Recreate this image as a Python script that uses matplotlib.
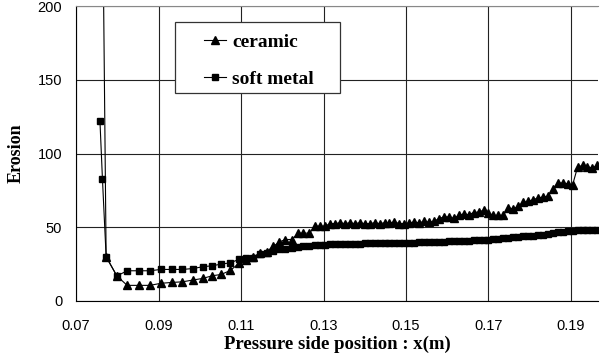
import matplotlib.pyplot as plt
from matplotlib.patches import Rectangle

# x positions (m), shared by both series
x_pos = [0.0758, 0.0764, 0.0773, 0.0799, 0.0824, 0.0852, 0.0879, 0.0906, 0.0933, 0.0958,
         0.0983, 0.1007, 0.1030, 0.1052, 0.1074, 0.1095, 0.1112, 0.1130, 0.1146, 0.1162,
         0.1178, 0.1193, 0.1207, 0.1223, 0.1239, 0.1251, 0.1266, 0.1279, 0.1292, 0.1304,
         0.1316, 0.1328, 0.1340, 0.1352, 0.1364, 0.1376, 0.1388, 0.1400, 0.1412, 0.1424,
         0.1436, 0.1448, 0.1460, 0.1472, 0.1484, 0.1496, 0.1508, 0.1520, 0.1532, 0.1544,
         0.1556, 0.1568, 0.1580, 0.1592, 0.1604, 0.1616, 0.1628, 0.1640, 0.1652, 0.1664,
         0.1676, 0.1688, 0.1700, 0.1712, 0.1724, 0.1736, 0.1748, 0.1760, 0.1772, 0.1784,
         0.1796, 0.1808, 0.1820, 0.1832, 0.1844, 0.1856, 0.1868, 0.1880, 0.1892, 0.1904,
         0.1916, 0.1928, 0.1940, 0.1952, 0.1964]

ceramic = [600, 285, 30, 17, 10.6, 10.6, 10.6, 12.0, 12.6, 13.0,
           14.2, 15.3, 17.1, 18.0, 20.7, 25.5, 27.7, 30.0, 32.6, 33.3,
           37.0, 40.0, 41.7, 41.7, 46.0, 46.0, 46.0, 50.7, 50.7, 50.7,
           52.5, 52.5, 53.0, 52.5, 53.0, 52.5, 53.0, 52.5, 52.5, 53.0,
           52.5, 53.0, 53.0, 53.5, 52.5, 52.5, 53.0, 53.5, 53.0, 54.0,
           53.5, 54.0, 55.9, 57.0, 57.0, 56.0, 58.0, 59.0, 58.5, 60.0,
           60.3, 61.5, 59.7, 58.0, 58.0, 58.0, 63.3, 62.4, 64.2, 67.0,
           67.5, 68.7, 69.8, 70.5, 71.0, 76.0, 80.0, 80.0, 79.5, 78.8,
           90.8, 91.9, 90.8, 90.3, 91.9]

soft_metal = [122, 83, 30, 17, 20.5, 20.5, 20.5, 21.4, 21.4, 21.4,
              22.0, 23.2, 23.9, 25.0, 25.9, 28.2, 29.0, 29.3, 31.8, 32.4,
              34.0, 35.0, 35.5, 36.0, 36.5, 37.0, 37.5, 37.8, 38.0, 38.2,
              38.4, 38.5, 38.6, 38.7, 38.8, 38.8, 38.9, 39.0, 39.0, 39.1,
              39.1, 39.2, 39.3, 39.3, 39.4, 39.5, 39.6, 39.6, 39.7, 39.8,
              39.9, 40.0, 40.2, 40.3, 40.5, 40.6, 40.8, 40.9, 41.0, 41.2,
              41.4, 41.6, 41.7, 42.0, 42.3, 42.6, 42.9, 43.2, 43.5, 43.8,
              44.1, 44.3, 44.6, 45.0, 45.5, 46.0, 46.5, 47.0, 47.3, 47.6,
              47.9, 48.0, 48.2, 48.3, 48.4]

x_ticks = [0.07, 0.09, 0.11, 0.13, 0.15, 0.17, 0.19]
x_labels = ['0.07', '0.09', '0.11', '0.13', '0.15', '0.17', '0.19']
y_ticks = [0, 50, 100, 150, 200]

serif = 'Liberation Serif'
sans = 'Liberation Sans'

fig = plt.figure(figsize=(6.01, 3.56), dpi=100)
ax = fig.add_axes([0.1265, 0.1545, 0.8685, 0.8285])

ax.plot(x_pos, ceramic, color='black', lw=0.8, marker='^', ms=5.5, label='ceramic')
ax.plot(x_pos, soft_metal, color='black', lw=0.8, marker='s', ms=5, label='soft metal')

ax.set_xlim(0.07, 0.19655)
ax.set_ylim(0, 200)
ax.set_xticks(x_ticks)
ax.set_xticklabels(x_labels, fontfamily=sans, fontsize=10.5)
ax.set_yticks(y_ticks)
ax.set_yticklabels([str(v) for v in y_ticks], fontfamily=sans, fontsize=10.5)
ax.tick_params(axis='x', length=0, pad=13)
ax.tick_params(axis='y', length=0, pad=10)

ax.grid(True, color='#222222', lw=0.8)
ax.set_axisbelow(True)
ax.spines['right'].set_visible(False)
ax.spines['top'].set_color('#888888')
ax.spines['left'].set_color('black')
ax.spines['bottom'].set_color('black')

ax.set_xlabel('Pressure side position : x(m)', fontfamily=serif, fontweight='bold',
              fontsize=13.5, labelpad=2)
ax.set_ylabel('Erosion', fontfamily=serif, fontweight='bold', fontsize=13, labelpad=9)

# legend box drawn separately (wide padding on the right)
box = Rectangle((0.19, 0.704), 0.316, 0.243, transform=ax.transAxes, facecolor='white',
                edgecolor='#333333', lw=0.9, zorder=5)
ax.add_patch(box)
leg = ax.legend(loc='upper left', bbox_to_anchor=(0.245, 0.907), frameon=False,
                handlelength=1.15, labelspacing=1.0, borderpad=0, handletextpad=0.3,
                borderaxespad=0, prop={'family': serif, 'weight': 'bold', 'size': 14})
leg.set_zorder(6)

fig.savefig('out.png', dpi=100)
